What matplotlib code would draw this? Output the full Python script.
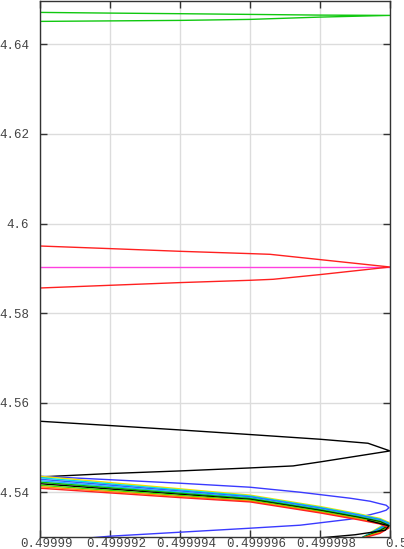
import numpy as np
import matplotlib
matplotlib.use("Agg")
import matplotlib.pyplot as plt
import matplotlib.transforms as mtransforms

#-------------------#
# Font / style
#-------------------#
plt.rcParams['font.family'] = ['Liberation Mono', 'DejaVu Sans Mono']
plt.rcParams['font.size'] = 9

#-------------------#
# Data
#-------------------#
# top green loop (lower branch -> tip -> upper branch)
green_x = [0.49999, 0.499992, 0.499994, 0.499996, 0.499998, 0.5,
           0.499998, 0.499996, 0.499994, 0.499992, 0.49999]
green_y = [4.645134, 4.645246, 4.645357, 4.645580, 4.646094, 4.646473,
           4.646540, 4.646696, 4.646853, 4.646987, 4.647143]

# red loop
red_x = [0.49999, 0.499992, 0.499994, 0.499996, 0.49999666, 0.499998, 0.5,
         0.499998, 0.49999657, 0.499996, 0.499994, 0.499992, 0.49999]
red_y = [4.585603, 4.586205, 4.586808, 4.587321, 4.587545, 4.588594, 4.590290,
         4.591942, 4.593125, 4.593281, 4.593795, 4.594397, 4.594978]

# magenta line
mag_x = [0.49999, 0.5]
mag_y = [4.590290, 4.590290]

# black loop
black_x = [0.49999, 0.499992, 0.499994, 0.499996, 0.49999723, 0.499998, 0.5,
           0.49999937, 0.499998, 0.499996, 0.499994, 0.499992, 0.49999]
black_y = [4.543415, 4.544174, 4.544754, 4.545424, 4.545871, 4.546763, 4.549219,
           4.550937, 4.551830, 4.552879, 4.553906, 4.554888, 4.555848]

# blue wide loop
blue_x = [0.49999, 0.499992, 0.499994, 0.499996, 0.49999743, 0.49999886,
          0.49999943, 0.49999971, 0.49999989, 0.49999997, 0.49999989,
          0.49999971, 0.49999943, 0.49999886, 0.49999743,
          0.499996, 0.499994, 0.499992, 0.49999149]
blue_y = [4.543571, 4.542790, 4.542009, 4.541116, 4.540000, 4.538661,
          4.537991, 4.537433, 4.537098, 4.536540, 4.535982,
          4.535536, 4.534978, 4.533973, 4.532634,
          4.531964, 4.531071, 4.530179, 4.529844]

# bundle of curves near the bottom
bundle_x = [0.49999, 0.499992, 0.499994, 0.499996, 0.499998, 0.49999909,
            0.49999971, 0.49999997, 0.49999971, 0.49999914]
bundle_colors = ['#f0e000', '#00e0e0', '#3060ff', '#20b0ff', '#00c000',
                 '#000000', '#40e000', '#ff9000', '#ff2020']
bundle_y = [
    [4.543572, 4.542164, 4.540761, 4.539354, 4.536810, 4.535199, 4.534151, 4.533258, 4.532234, 4.5296],
    [4.543237, 4.541874, 4.540515, 4.539164, 4.536631, 4.535032, 4.533995, 4.533102, 4.532055, 4.5296],
    [4.542902, 4.541584, 4.540269, 4.538974, 4.536452, 4.534865, 4.533839, 4.532946, 4.531876, 4.5296],
    [4.542567, 4.541294, 4.540023, 4.538784, 4.536273, 4.534698, 4.533683, 4.532790, 4.531697, 4.5296],
    [4.542232, 4.541004, 4.539777, 4.538594, 4.536094, 4.534531, 4.533527, 4.532634, 4.531518, 4.5296],
    [4.541897, 4.540714, 4.539531, 4.538404, 4.535915, 4.534364, 4.533371, 4.532478, 4.531339, 4.5296],
    [4.541562, 4.540424, 4.539285, 4.538214, 4.535736, 4.534197, 4.533215, 4.532322, 4.531160, 4.5296],
    [4.541227, 4.540134, 4.539039, 4.538024, 4.535557, 4.534030, 4.533059, 4.532166, 4.530981, 4.5296],
    [4.540892, 4.539844, 4.538793, 4.537834, 4.535378, 4.533863, 4.532903, 4.532010, 4.530802, 4.5296],
]

# outer black branch near the bottom right
black2_x = [0.49999937, 0.49999997, 0.49999986, 0.499999, 0.499998]
black2_y = [4.533700, 4.532500, 4.531500, 4.530500, 4.529800]

xticks = [0.49999, 0.499992, 0.499994, 0.499996, 0.499998, 0.5]
xticklabels = ['0.49999', '0.499992', '0.499994', '0.499996', '0.499998', '0.5']
yticks = [4.54, 4.56, 4.58, 4.6, 4.62, 4.64]
yticklabels = ['4.54', '4.56', '4.58', '4.6', '4.62', '4.64']

#-------------------#
# Plot
#-------------------#
fig = plt.figure(figsize=(4.04, 5.49), dpi=100)
ax = fig.add_axes([40 / 404, 12 / 549, 350 / 404, 536.5 / 549])

lw = 1.0
ax.plot(green_x, green_y, color='#10c810', lw=lw)
ax.plot(mag_x, mag_y, color='#ff40e0', lw=lw)
ax.plot(red_x, red_y, color='#ff2020', lw=lw)
ax.plot(black_x, black_y, color='black', lw=lw)
ax.plot(blue_x, blue_y, color='#3a3aff', lw=lw)
for c, yy in zip(bundle_colors, bundle_y):
	ax.plot(bundle_x, yy, color=c, lw=lw)
ax.plot(black2_x, black2_y, color='black', lw=lw)

ax.set_xlim(0.49999, 0.5)
ax.set_ylim(4.53, 4.6498)
ax.set_xticks(xticks)
ax.set_xticklabels(xticklabels)
ax.set_yticks(yticks)
ax.set_yticklabels(yticklabels)

ax.grid(True, color='#dcdcdc', lw=1.0)
ax.set_axisbelow(True)
ax.tick_params(direction='in', length=5, width=1, colors='#333333',
               labelcolor='#444444', top=True, right=True)
ax.tick_params(axis='y', pad=8)
ax.tick_params(axis='x', pad=0.5)
for s in ax.spines.values():
	s.set_color('#333333')
	s.set_linewidth(1.0)

# x labels sit slightly to the right of their ticks
shift = mtransforms.ScaledTranslation(6.5 / 100, 0, fig.dpi_scale_trans)
for lab in ax.get_xticklabels():
	lab.set_transform(lab.get_transform() + shift)

fig.savefig("out.png", dpi=100)
